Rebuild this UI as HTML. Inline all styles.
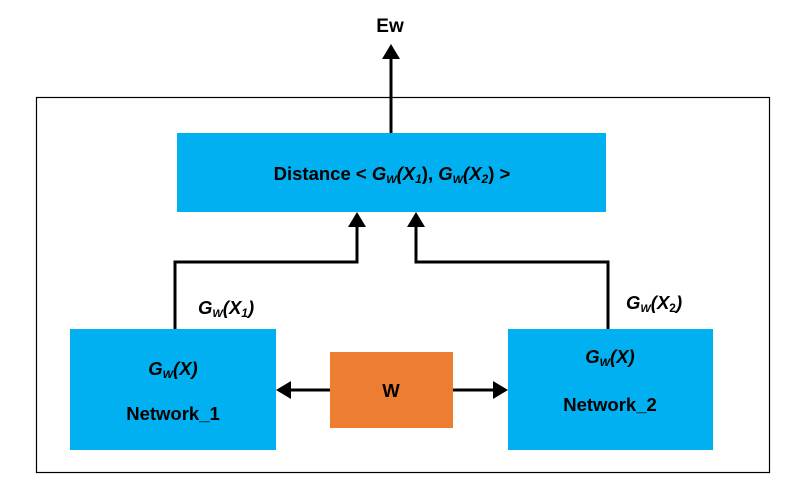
<!DOCTYPE html>
<html><head><style>
body{margin:0;background:#fff}
svg text{font-family:"Liberation Sans",Arial,sans-serif;font-weight:bold;fill:#000}
</style></head><body>
<svg width="788" height="486" viewBox="0 0 788 486" xmlns="http://www.w3.org/2000/svg">
<rect x="0" y="0" width="788" height="486" fill="#fff"/>
<rect x="36.5" y="97.5" width="733" height="375" fill="none" stroke="#000" stroke-width="1.2"/>
<rect x="177" y="133" width="429" height="79" fill="#00B0F0"/>
<rect x="70" y="329" width="206" height="121" fill="#00B0F0"/>
<rect x="508" y="329" width="205" height="121" fill="#00B0F0"/>
<rect x="330" y="352" width="123" height="76" fill="#ED7D31"/>
<g stroke="#000" stroke-width="3" fill="none">
<line x1="391" y1="133" x2="391" y2="56"/>
<polyline points="175,329 175,262 357,262 357,226"/>
<polyline points="608,329 608,262 416,262 416,226"/>
<line x1="330" y1="390" x2="290" y2="390"/>
<line x1="453" y1="390" x2="494" y2="390"/>
</g>
<g fill="#000">
<polygon points="391,44 382,59 400,59"/>
<polygon points="357,212 348,227 366,227"/>
<polygon points="416,212 407,227 425,227"/>
<polygon points="276,390 291,381 291,399"/>
<polygon points="508,390 493,381 493,399"/>
</g>
<text x="390" y="32" font-size="19" text-anchor="middle">Ew</text>
<text x="392" y="180" font-size="18.5" text-anchor="middle">Distance &lt; <tspan font-style="italic">G</tspan><tspan font-style="italic" font-size="11" dy="3">W</tspan><tspan font-style="italic" dy="-3">(X</tspan><tspan font-style="italic" font-size="12" dy="3">1</tspan><tspan dy="-3">), </tspan><tspan font-style="italic">G</tspan><tspan font-style="italic" font-size="11" dy="3">W</tspan><tspan font-style="italic" dy="-3">(X</tspan><tspan font-style="italic" font-size="12" dy="3">2</tspan><tspan dy="-3">) &gt;</tspan></text>
<text x="198" y="314" font-size="18.5" font-style="italic">G<tspan font-size="11" dy="3">W</tspan><tspan dy="-3">(X</tspan><tspan font-size="12" dy="3">1</tspan><tspan dy="-3">)</tspan></text>
<text x="626" y="309" font-size="18.5" font-style="italic">G<tspan font-size="11" dy="3">W</tspan><tspan dy="-3">(X</tspan><tspan font-size="12" dy="3" font-style="normal">2</tspan><tspan dy="-3">)</tspan></text>
<text x="173" y="375" font-size="18.5" font-style="italic" text-anchor="middle">G<tspan font-size="11" dy="3">W</tspan><tspan dy="-3">(X)</tspan></text>
<text x="173" y="420" font-size="18.5" text-anchor="middle">Network_1</text>
<text x="610" y="363" font-size="18.5" font-style="italic" text-anchor="middle">G<tspan font-size="11" dy="3">W</tspan><tspan dy="-3">(X)</tspan></text>
<text x="610" y="411" font-size="18.5" text-anchor="middle">Network_2</text>
<text x="391" y="397" font-size="18.5" text-anchor="middle">W</text>
</svg>
</body></html>
